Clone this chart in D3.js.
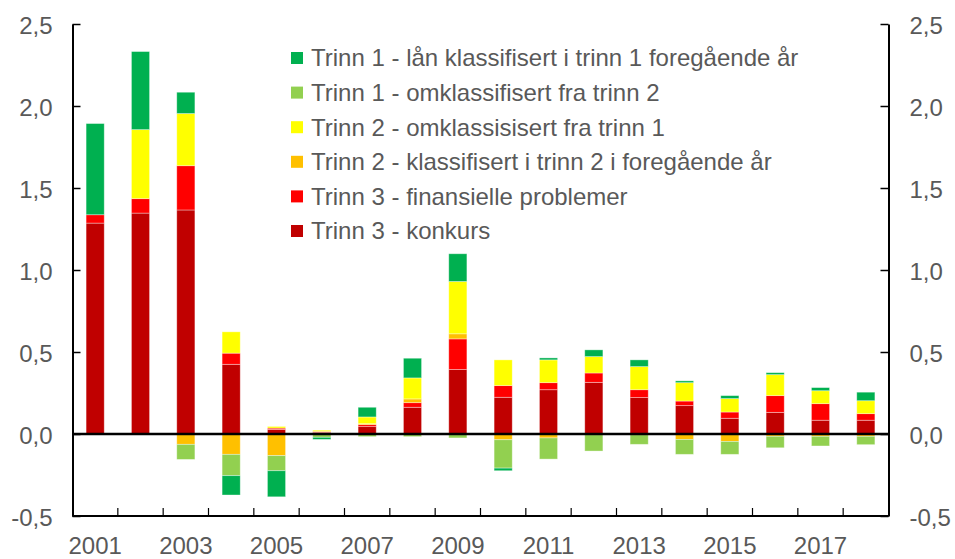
<!DOCTYPE html>
<html>
<head>
<meta charset="utf-8">
<script src="https://cdn.jsdelivr.net/npm/d3@7"></script>
<style>
  html, body { margin: 0; padding: 0; background: #fff; }
  svg text { font-family: "Liberation Sans", Arial, sans-serif; fill: #595959; }
</style>
</head>
<body>
<svg id="chart" width="955" height="559"></svg>
<script>
const years = [2001,2002,2003,2004,2005,2006,2007,2008,2009,2010,2011,2012,2013,2014,2015,2016,2017,2018];
const konkurs      = [1.286,1.347,1.366,0.425,0.028,0.010,0.045,0.163,0.393,0.224,0.270,0.315,0.222,0.173,0.096,0.132,0.084,0.084];
const finansielle  = [0.051,0.088,0.270,0.068,0.008,0.005,0.012,0.028,0.187,0.071,0.043,0.057,0.048,0.028,0.038,0.102,0.101,0.040];
const t2Klassifisert = [0,0,-0.063,-0.124,-0.132,-0.002,0.006,0.023,0.031,-0.035,-0.024,-0.004,-0.004,-0.033,-0.045,-0.014,-0.014,-0.014];
const t2Omklass    = [0,0.421,0.318,0.130,0.010,0.008,0.041,0.128,0.319,0.157,0.139,0.100,0.141,0.112,0.082,0.128,0.079,0.079];
const t1Omklass    = [0,0,-0.092,-0.130,-0.092,-0.018,-0.016,-0.016,-0.024,-0.173,-0.129,-0.100,-0.059,-0.091,-0.079,-0.070,-0.059,-0.051];
const t1Laan       = [0.556,0.476,0.130,-0.118,-0.159,-0.013,0.059,0.120,0.169,-0.016,0.012,0.041,0.041,0.011,0.018,0.012,0.019,0.052];
const yTicks = [-0.5,0,0.5,1,1.5,2,2.5];
const xLabelYears = [2001,2003,2005,2007,2009,2011,2013,2015,2017];

const seriesDefs = [
  {key:"konkurs", name:"Trinn 3 - konkurs", values:konkurs, color:"#C00000"},
  {key:"fin", name:"Trinn 3 - finansielle problemer", values:finansielle, color:"#FF0000"},
  {key:"t2k", name:"Trinn 2 - klassifisert i trinn 2 i foregående år", values:t2Klassifisert, color:"#FFC000"},
  {key:"t2o", name:"Trinn 2 - omklassisisert fra trinn 1", values:t2Omklass, color:"#FFFF00"},
  {key:"t1o", name:"Trinn 1 - omklassifisert fra trinn 2", values:t1Omklass, color:"#92D050"},
  {key:"t1l", name:"Trinn 1 - lån klassifisert i trinn 1 foregående år", values:t1Laan, color:"#00B050"}
];

const table = years.map((yr,i) => {
  const row = {year:yr};
  seriesDefs.forEach(s => row[s.key] = s.values[i]);
  return row;
});

const svg = d3.select("#chart");
const mLeft = 72.5, mRight = 888.5, mTop = 24, mBottom = 516;

const x = d3.scaleBand().domain(years).range([mLeft, mRight]).padding(0);
const y = d3.scaleLinear().domain([-0.5, 2.5]).range([mBottom, mTop]);

const stack = d3.stack().keys(seriesDefs.map(s=>s.key)).offset(d3.stackOffsetDiverging);
const stacked = stack(table);

const barW = x.bandwidth() * 0.4;
const g = svg.append("g");
stacked.forEach((layer, li) => {
  g.selectAll(null).data(layer).enter().append("rect")
    .attr("x", d => x(d.data.year) + (x.bandwidth() - barW)/2)
    .attr("y", d => y(Math.max(d[0], d[1])))
    .attr("width", barW)
    .attr("height", d => Math.abs(y(d[0]) - y(d[1])))
    .attr("fill", seriesDefs[li].color)
    .attr("stroke", "rgba(255,255,255,0.45)")
    .attr("stroke-width", 0.8);
});

const fmt = v => d3.format(".1f")(v).replace(".", ",").replace("−","-");

const ax1 = svg.append("g").attr("transform", `translate(${mLeft},0)`)
  .call(d3.axisLeft(y).tickValues(yTicks).tickFormat(fmt).tickSizeInner(-8).tickSizeOuter(0).tickPadding(20));
const ax2 = svg.append("g").attr("transform", `translate(${mRight},0)`)
  .call(d3.axisRight(y).tickValues(yTicks).tickFormat(fmt).tickSizeInner(-8).tickSizeOuter(0).tickPadding(21));
[ax1, ax2].forEach(a => {
  a.select(".domain").attr("stroke", "#000").attr("stroke-width", 2);
  a.selectAll(".tick line").attr("stroke", "#000").attr("stroke-width", 1.5);
  a.selectAll(".tick text").attr("font-size", 24).style("fill", "#595959").attr("dy", "0.38em");
});

const ax3 = svg.append("g").attr("transform", `translate(0,${mBottom})`)
  .call(d3.axisBottom(x).tickValues(xLabelYears).tickSize(0).tickPadding(21));
ax3.select(".domain").remove();
ax3.selectAll(".tick text").attr("font-size", 24).style("fill", "#595959");
svg.append("line").attr("x1", mLeft).attr("x2", mRight).attr("y1", mBottom).attr("y2", mBottom)
  .attr("stroke", "#000").attr("stroke-width", 2);
const boundaries = years.map(d => x(d));
svg.selectAll(null).data(boundaries.slice(1)).enter().append("line")
  .attr("x1", d => d).attr("x2", d => d).attr("y1", mBottom).attr("y2", mBottom - 8)
  .attr("stroke", "#000").attr("stroke-width", 1.2);

svg.append("line").attr("x1", mLeft).attr("x2", mRight).attr("y1", y(0)).attr("y2", y(0))
  .attr("stroke", "#000").attr("stroke-width", 2.5);

const legend = svg.append("g");
const legendItems = seriesDefs.slice().reverse();
legendItems.forEach((s, i) => {
  const cy = 58 + i * 34.6;
  legend.append("rect").attr("x", 291).attr("y", cy - 6).attr("width", 12).attr("height", 12).attr("fill", s.color);
  legend.append("text").attr("x", 311).attr("y", cy).attr("dy", "0.35em").attr("font-size", 24).text(s.name);
});
</script>
</body>
</html>
